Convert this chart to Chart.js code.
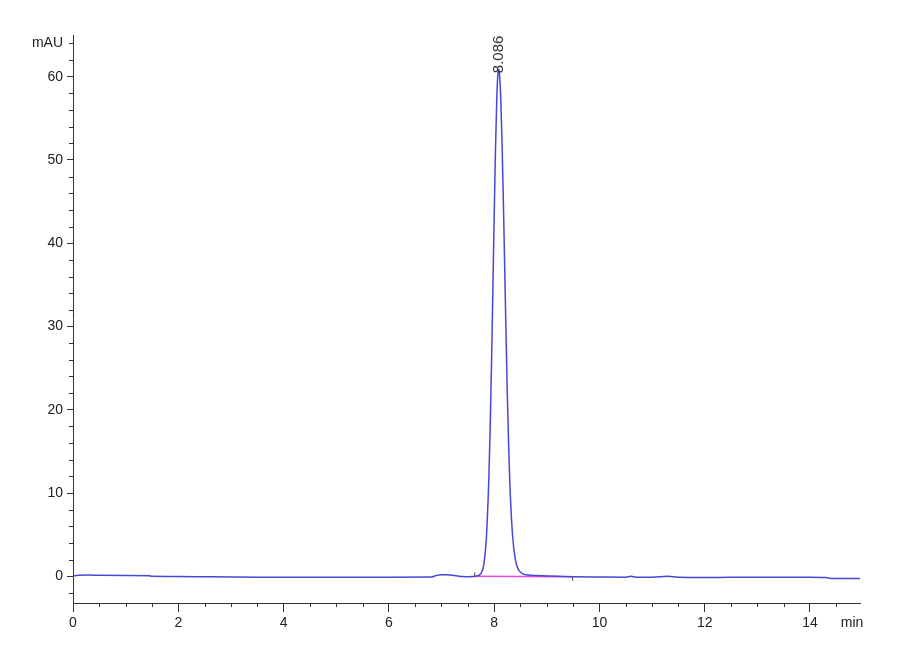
<!DOCTYPE html>
<html>
<head>
<meta charset="utf-8">
<script src="https://cdn.jsdelivr.net/npm/chart.js@4.4.1/dist/chart.umd.min.js"></script>
<style>
  html, body { margin: 0; padding: 0; background: #fff; }
  #wrap { width: 900px; height: 660px; position: relative; }
</style>
</head>
<body>
<div id="wrap"><canvas id="c" width="900" height="660"></canvas></div>
<script>
// ---- data ----
const timeMin = [0, 0.1, 0.3, 0.5, 1.0, 1.45, 1.5, 2.0, 2.5, 3.0, 3.5, 4.0, 5.0, 6.0, 6.8, 6.9, 7.0, 7.1, 7.3, 7.4, 7.5, 7.6, 7.65,
  7.70, 7.75, 7.80, 7.85, 7.90, 7.925, 7.95, 7.975, 8.00, 8.025, 8.05, 8.07, 8.086, 8.10, 8.125, 8.15, 8.175, 8.20, 8.225, 8.25, 8.275,
  8.30, 8.35, 8.40, 8.45, 8.50, 8.55, 8.60, 8.70, 8.80, 9.0, 9.2, 9.5, 10.0, 10.5, 10.6, 10.7, 11.0, 11.3, 11.5, 12.0, 12.5, 13.0,
  13.5, 14.0, 14.3, 14.4, 14.95];
const signalMAU = [0.05, 0.12, 0.15, 0.12, 0.1, 0.08, 0.0, -0.02, -0.05, -0.08, -0.1, -0.1, -0.1, -0.1, -0.08, 0.1, 0.2, 0.18, 0.05, -0.02, -0.05, -0.03, 0.0,
  0.1, 0.35, 1.3, 4.4, 11.9, 17.9, 25.5, 34.1, 43.0, 51.1, 57.3, 60.2, 60.9, 60.4, 57.5, 52.1, 45.1, 37.3, 29.3, 22.0, 15.8,
  10.9, 4.9, 2.1, 0.95, 0.5, 0.3, 0.2, 0.12, 0.1, 0.05, 0.0, -0.05, -0.08, -0.1, 0.0, -0.1, -0.1, 0.0, -0.12, -0.15, -0.12, -0.12,
  -0.12, -0.12, -0.15, -0.25, -0.25];
const integrationStart = [7.63, 0.0];   // [time, mAU]
const integrationEnd = [9.49, -0.05];
const peakRT = 8.086;
const peakHeight = 60.9;
const peakLabel = "8.086";
const xMajorTicks = [0, 2, 4, 6, 8, 10, 12, 14];
const yMajorTicks = [0, 10, 20, 30, 40, 50, 60];
const xMinorStep = 0.5;
const yMinorStep = 2;
const xRange = [0, 14.95];
const yRange = [-3.2, 65];
const yUnit = "mAU";
const xUnit = "min";

const FONT = "'Liberation Sans Narrow', 'Liberation Sans', Arial, sans-serif";
const AXIS = '#333';
const TEXT = '#222';

const traceData = timeMin.map((t, i) => ({ x: t, y: signalMAU[i] }));

const extras = {
  id: 'extras',
  afterDraw(chart) {
    const ctx = chart.ctx;
    const xs = chart.scales.x, ys = chart.scales.y;
    ctx.save();
    ctx.strokeStyle = AXIS;
    ctx.lineWidth = 1;
    // minor x ticks
    for (let v = xRange[0]; v <= xRange[1] + 1e-9; v += xMinorStep) {
      if (xMajorTicks.some(m => Math.abs(m - v) < 1e-6)) continue;
      const px = Math.round(xs.getPixelForValue(v)) + 0.5;
      ctx.beginPath(); ctx.moveTo(px, ys.bottom); ctx.lineTo(px, ys.bottom + 4); ctx.stroke();
    }
    // minor y ticks
    for (let v = -2; v <= yRange[1]; v += yMinorStep) {
      if (yMajorTicks.some(m => Math.abs(m - v) < 1e-6)) continue;
      const py = Math.round(ys.getPixelForValue(v)) + 0.5;
      ctx.beginPath(); ctx.moveTo(xs.left - 4, py); ctx.lineTo(xs.left, py); ctx.stroke();
    }
    // integration markers
    ctx.strokeStyle = '#555';
    let px = xs.getPixelForValue(integrationStart[0]);
    let py = ys.getPixelForValue(integrationStart[1]);
    ctx.beginPath(); ctx.moveTo(px, py); ctx.lineTo(px, py - 4); ctx.stroke();
    px = xs.getPixelForValue(integrationEnd[0]);
    py = ys.getPixelForValue(integrationEnd[1]);
    ctx.beginPath(); ctx.moveTo(px, py); ctx.lineTo(px, py + 4); ctx.stroke();
    // unit labels
    ctx.fillStyle = TEXT;
    ctx.font = "14px " + FONT;
    ctx.textAlign = 'right'; ctx.textBaseline = 'middle';
    ctx.fillText(yUnit, xs.left - 10, ys.getPixelForValue(64));
    ctx.textAlign = 'center';
    ctx.fillText(xUnit, xs.right - 8, ys.bottom + 20);
    // peak label
    const lx = xs.getPixelForValue(peakRT), ly = ys.getPixelForValue(peakHeight);
    ctx.translate(lx, ly + 4);
    ctx.rotate(-Math.PI / 2);
    ctx.font = "15px 'Liberation Sans', Arial, sans-serif";
    ctx.textAlign = 'left'; ctx.textBaseline = 'middle';
    ctx.fillStyle = '#333';
    ctx.fillText(peakLabel, 0, 0);
    ctx.restore();
  }
};

new Chart(document.getElementById('c'), {
  type: 'line',
  data: {
    datasets: [
      {
        label: 'baseline',
        data: [{ x: integrationStart[0], y: integrationStart[1] }, { x: integrationEnd[0], y: integrationEnd[1] }],
        borderColor: '#ee44ee', borderWidth: 1.5, pointRadius: 0, fill: false, order: 2
      },
      {
        label: 'signal',
        data: traceData,
        borderColor: '#4848d8', borderWidth: 1.5, pointRadius: 0, fill: false,
        cubicInterpolationMode: 'monotone', order: 1
      }
    ]
  },
  options: {
    responsive: false,
    animation: false,
    parsing: true,
    layout: { padding: { left: 0, right: 40, top: 35, bottom: 0 } },
    plugins: { legend: { display: false }, tooltip: { enabled: false } },
    scales: {
      x: {
        type: 'linear', min: xRange[0], max: xRange[1],
        afterFit: s => { s.height = 57; },
        afterBuildTicks: s => { s.ticks = xMajorTicks.map(v => ({ value: v })); },
        border: { display: true, color: AXIS, width: 1 },
        grid: { display: true, drawOnChartArea: false, drawTicks: true, tickLength: 9, color: AXIS },
        ticks: { color: TEXT, font: { family: FONT, size: 14 }, padding: 3, maxRotation: 0, autoSkip: false,
          callback: v => String(v) }
      },
      y: {
        type: 'linear', min: yRange[0], max: yRange[1],
        afterFit: s => { s.width = 73; },
        afterBuildTicks: s => { s.ticks = yMajorTicks.map(v => ({ value: v })); },
        border: { display: true, color: AXIS, width: 1 },
        grid: { display: true, drawOnChartArea: false, drawTicks: true, tickLength: 6, color: AXIS },
        ticks: { color: TEXT, font: { family: FONT, size: 14 }, padding: 4, autoSkip: false,
          callback: v => String(v) }
      }
    }
  },
  plugins: [extras]
});
</script>
</body>
</html>
